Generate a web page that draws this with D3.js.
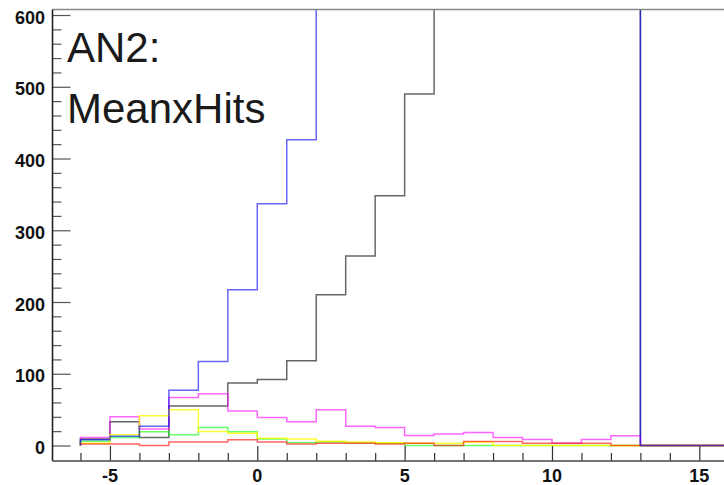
<!DOCTYPE html>
<html>
<head>
<meta charset="utf-8">
<script src="https://cdn.jsdelivr.net/npm/d3@7"></script>
<style>
  html, body { margin: 0; padding: 0; background: #fff; }
  svg { display: block; }
  .lbl { font-family: "Liberation Sans", Arial, Helvetica, sans-serif; font-weight: bold; font-size: 18px; fill: #111; }
  .title { font-family: "Liberation Sans", Arial, Helvetica, sans-serif; fill: #1a1a1a; }
</style>
</head>
<body>
<svg id="chart" width="724" height="485"></svg>
<script>
// Lower edge of each unit-wide bin
const binStarts = [-6, -5, -4, -3, -2, -1, 0, 1, 2, 3, 4, 5, 6, 7, 8, 9, 10, 11, 12, 13, 14, 15];

// Bin contents per histogram (values above the frame are clipped)
const blueCounts    = [8, 13, 27, 77, 117, 217, 337, 426, 690, 930, 1180, 1420, 1610, 1750, 1820, 1790, 1700, 1560, 1380, 0, 0, 0];
const blackCounts   = [9, 33, 11, 55, 55, 87, 92, 118, 210, 264, 348, 490, 650, 820, 960, 1050, 1080, 1040, 950, 0, 0, 0];
const magentaCounts = [11, 40, 23, 67, 72, 48, 39, 33, 50, 27, 25, 14, 16, 18, 11, 8.5, 3, 8.5, 13.5, 0, 0, 0];
const greenCounts   = [6, 11, 19, 15, 25, 19, 9, 4, 5, 4, 3, 0, 0, 0, 0, 0, 0, 0, 0, 0, 0, 0];
const yellowCounts  = [3, 15, 41.5, 50, 19.5, 17, 10, 9, 6, 5, 4, 3, 3, 5, 0, 0, 0, 0, 0, 0, 0, 0];
const redCounts     = [2, 2, 0, 5, 5, 8, 5, 2, 3, 3, 2, 3, 0, 5.5, 5.5, 3, 3, 3, 0, 0, 0, 0];

// Drawing order: later series sit on top
const seriesList = [
  { name: "black",   values: blackCounts,   color: "#000000" },
  { name: "magenta", values: magentaCounts, color: "#ff00ff" },
  { name: "green",   values: greenCounts,   color: "#00ff00" },
  { name: "yellow",  values: yellowCounts,  color: "#ffff00" },
  { name: "red",     values: redCounts,     color: "#ff0000" },
  { name: "blue",    values: blueCounts,    color: "#0000ff" }
];

const xMajorTicks = [-5, 0, 5, 10, 15];
const xMinorTicks = [-6, -4, -3, -2, -1, 1, 2, 3, 4, 6, 7, 8, 9, 11, 12, 13, 14, 16];
const yMajorTicks = [0, 100, 200, 300, 400, 500, 600];
const yMinorTicks = [20, 40, 60, 80, 120, 140, 160, 180, 220, 240, 260, 280, 320, 340, 360, 380, 420, 440, 460, 480, 520, 540, 560, 580];
const titleLines = ["AN2:", "MeanxHits"];

const svg = d3.select("#chart");

const frame = { left: 52.5, right: 728.8, top: 9.5, bottom: 461 };
const x = d3.scaleLinear().domain([-7, 16]).range([51.0, 728.8]);
const y = d3.scaleLinear().domain([-21.6, 607.7]).range([461, 9.5]);

svg.append("defs").append("clipPath").attr("id", "plotClip")
  .append("rect")
  .attr("x", frame.left).attr("y", frame.top)
  .attr("width", frame.right - frame.left).attr("height", frame.bottom - frame.top);

// Histogram outlines
const line = d3.line().x(d => x(d[0])).y(d => y(d[1]));
function histPoints(values) {
  const pts = [[binStarts[0], 0]];
  values.forEach((v, i) => {
    pts.push([binStarts[i], v]);
    pts.push([binStarts[i] + 1, v]);
  });
  return pts;
}
const plot = svg.append("g").attr("clip-path", "url(#plotClip)");
seriesList.forEach(s => {
  plot.append("path")
    .attr("d", line(histPoints(s.values)))
    .attr("fill", "none")
    .attr("stroke", s.color)
    .attr("stroke-width", 1.5)
    .attr("stroke-opacity", s.name === "yellow" ? 0.8 : 0.6);
});

// Y axis ticks pointing into the frame
const yMajor = d3.axisLeft(y).tickValues(yMajorTicks).tickSize(-18).tickFormat("");
const yMinor = d3.axisLeft(y).tickValues(yMinorTicks).tickSize(-9).tickFormat("");
[yMajor, yMinor].forEach(ax => {
  const g = svg.append("g").attr("transform", `translate(${frame.left},0)`).call(ax);
  g.select(".domain").remove();
  g.selectAll(".tick line").attr("stroke", "#555").attr("stroke-width", 1.2);
});
svg.append("g").selectAll("text").data(yMajorTicks).join("text")
  .attr("class", "lbl")
  .attr("x", 45).attr("y", d => y(d) + 8.5)
  .attr("text-anchor", "end")
  .text(d => d);

// X axis ticks pointing up into the frame
const xMajor = d3.axisBottom(x).tickValues(xMajorTicks).tickSize(-15).tickFormat("");
const xMinor = d3.axisBottom(x).tickValues(xMinorTicks).tickSize(-8).tickFormat("");
[xMajor, xMinor].forEach(ax => {
  const g = svg.append("g").attr("transform", `translate(0,${frame.bottom})`).call(ax);
  g.select(".domain").remove();
  g.selectAll(".tick line").attr("stroke", "#333").attr("stroke-width", 1.2);
});
svg.append("g").selectAll("text").data(xMajorTicks).join("text")
  .attr("class", "lbl")
  .attr("x", d => x(d)).attr("y", 482)
  .attr("text-anchor", "middle")
  .text(d => d);

// Frame lines
svg.append("line").attr("x1", frame.left).attr("x2", 724).attr("y1", frame.top).attr("y2", frame.top)
  .attr("stroke", "#888").attr("stroke-width", 1.5);
svg.append("line").attr("x1", frame.left).attr("x2", frame.left).attr("y1", frame.top).attr("y2", frame.bottom)
  .attr("stroke", "#222").attr("stroke-width", 1.6);
svg.append("line").attr("x1", frame.left).attr("x2", 724).attr("y1", frame.bottom).attr("y2", frame.bottom)
  .attr("stroke", "#444").attr("stroke-width", 1.3);

// Title block in the upper left
svg.append("text").attr("class", "title")
  .attr("x", 67).attr("y", 62).attr("font-size", 42)
  .text(titleLines[0]);
svg.append("text").attr("class", "title")
  .attr("x", 67).attr("y", 123).attr("font-size", 42)
  .text(titleLines[1]);
</script>
</body>
</html>
